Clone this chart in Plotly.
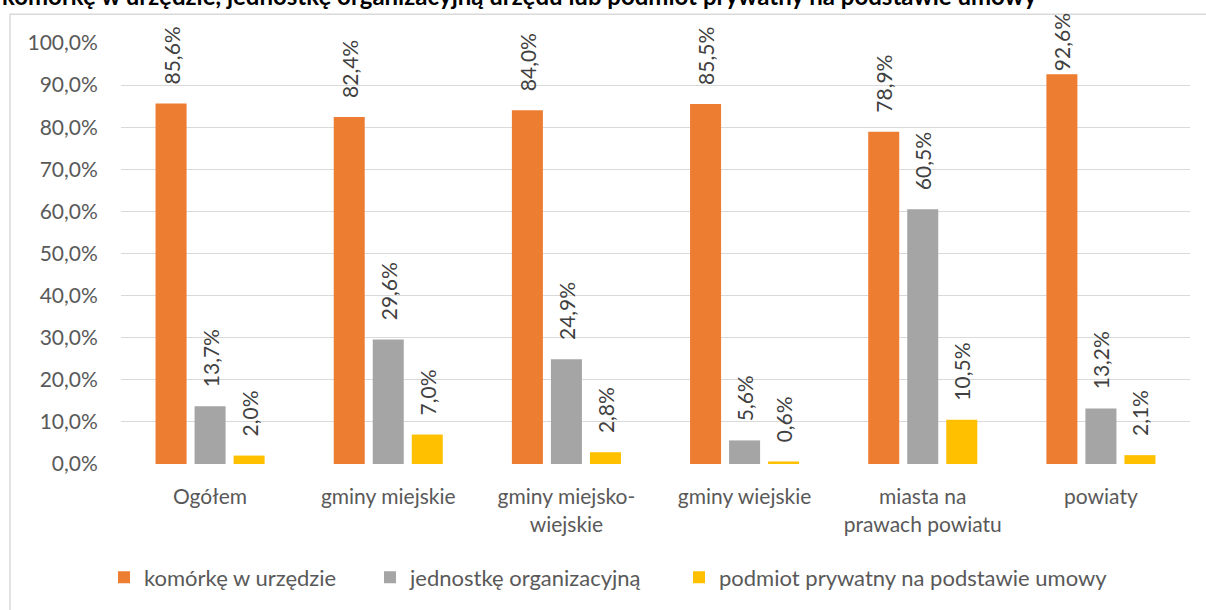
import plotly.graph_objects as go

categories = ["Ogółem", "gminy miejskie", "gminy miejsko-<br>wiejskie", "gminy wiejskie",
              "miasta na<br>prawach powiatu", "powiaty"]
series_names = ["komórkę w urzędzie", "jednostkę organizacyjną", "podmiot prywatny na podstawie umowy"]
komorka = [85.6, 82.4, 84.0, 85.5, 78.9, 92.6]
jednostka = [13.7, 29.6, 24.9, 5.6, 60.5, 13.2]
podmiot = [2.0, 7.0, 2.8, 0.6, 10.5, 2.1]
colors = ["#ED7D31", "#A5A5A5", "#FFC000"]
title_text = "komórkę w urzędzie, jednostkę organizacyjną urzędu lub podmiot prywatny na podstawie umowy"

FONT = "Lato, 'Open Sans', sans-serif"
PAD = "\u00a0\u00a0\u00a0"

W, H = 1206, 610
L, R, T, B = 121, 16, 43, 144
pw, ph = W - L - R, H - T - B

def px(x):
    return (x - L) / pw

def py(y):
    return (H - B - y) / ph

legend_names = ["legend", "legend2", "legend3"]
legend_text_x = [144, 410, 719]

fig = go.Figure()
for name, vals, col, lg in zip(series_names, [komorka, jednostka, podmiot], colors, legend_names):
    templates = [("%{y:.1f}%" if v > 90 else PAD + "%{y:.1f}%") for v in vals]
    fig.add_trace(go.Bar(
        x=categories, y=vals, name=name, marker=dict(color=col, line=dict(width=0)),
        texttemplate=templates, textposition="outside", textangle=-90,
        textfont=dict(family=FONT, size=21, color="#404040"),
        cliponaxis=False, legend=lg, hoverinfo="skip",
    ))

legend_common = dict(orientation="h", yanchor="middle", y=py(580), xanchor="left",
                     font=dict(family=FONT, size=22, color="#595959"),
                     bgcolor="rgba(0,0,0,0)", borderwidth=0)

fig.update_layout(
    width=W, height=H,
    margin=dict(l=L, r=R, t=T, b=B),
    paper_bgcolor="white", plot_bgcolor="white",
    barmode="group", bargap=0.343, bargroupgap=0.205,
    separators=", ",
    uniformtext=dict(minsize=21, mode="show"),
    font=dict(family=FONT, size=21, color="#595959"),
    showlegend=True,
    legend=dict(x=px(legend_text_x[0] - 40), **legend_common),
    legend2=dict(x=px(legend_text_x[1] - 40), **legend_common),
    legend3=dict(x=px(legend_text_x[2] - 40), **legend_common),
    xaxis=dict(showgrid=False, showline=False, ticks="outside", ticklen=14,
               tickcolor="rgba(0,0,0,0)", tickfont=dict(family=FONT, size=21, color="#595959")),
    yaxis=dict(range=[0, 100], dtick=10, tickformat=".1f", ticksuffix="%",
               showgrid=True, gridcolor="#D9D9D9", gridwidth=1.3, zeroline=False,
               showline=False, ticks="outside", ticklen=18, tickcolor="rgba(0,0,0,0)",
               tickfont=dict(family=FONT, size=21, color="#595959")),
    shapes=[dict(type="rect", xref="paper", yref="paper",
                 x0=px(10), x1=px(1215), y0=py(620), y1=py(14),
                 line=dict(color="#D9D9D9", width=1.5), fillcolor="rgba(0,0,0,0)", layer="below")],
    annotations=[dict(text="<b>" + title_text + "</b>", xref="paper", yref="paper",
                      x=px(0), xanchor="left", y=py(-5), yanchor="middle", showarrow=False,
                      font=dict(family=FONT, size=24, color="#000000"))],
)

fig.write_html("out.html", config={"displayModeBar": False},
               post_script="document.body.style.margin='0';document.body.style.overflow='hidden';")
